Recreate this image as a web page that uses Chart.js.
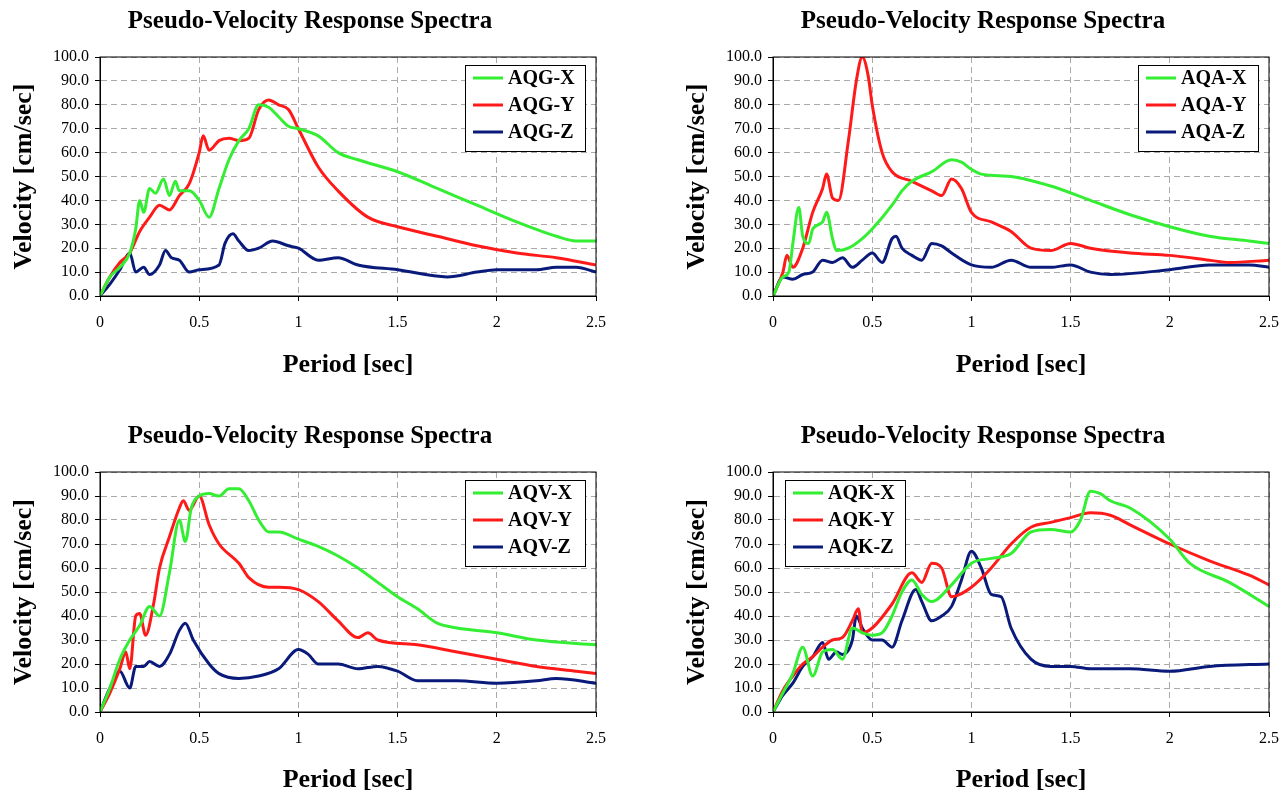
<!DOCTYPE html><html><head><meta charset="utf-8">
<script src="https://cdn.jsdelivr.net/npm/chart.js@4"></script>
<style>body{margin:0;background:#fff;width:1287px;height:793px;position:relative;overflow:hidden}
.c{position:absolute;width:640px;height:396px}</style></head><body>
<div class="c" style="left:0;top:0"><canvas id="c0"></canvas></div>
<div class="c" style="left:673px;top:0"><canvas id="c1"></canvas></div>
<div class="c" style="left:0;top:415px"><canvas id="c2"></canvas></div>
<div class="c" style="left:673px;top:415px"><canvas id="c3"></canvas></div>
<script>
const title="Pseudo-Velocity Response Spectra";
const xTitle="Period [sec]", yTitle="Velocity [cm/sec]";
// AQG
const aqgX_t=[0,0.05,0.1,0.15,0.18,0.2,0.22,0.25,0.28,0.32,0.35,0.38,0.4,0.45,0.5,0.55,0.6,0.65,0.7,0.75,0.8,0.85,0.9,0.95,1.0,1.1,1.2,1.3,1.5,1.7,1.9,2.1,2.3,2.4,2.5];
const aqgX_v=[0,8,12,18,28,40,35,45,43,49,42,48,44,44,40,33,45,57,65,70,80,79,75,71,70,67,60,57,52,45,38,31,25,23,23];
const aqgY_t=[0,0.05,0.1,0.15,0.2,0.25,0.3,0.35,0.4,0.45,0.5,0.52,0.55,0.6,0.65,0.7,0.75,0.8,0.85,0.9,0.95,1.0,1.1,1.2,1.35,1.5,1.7,1.9,2.1,2.3,2.5];
const aqgY_v=[0,8,14,18,27,33,38,36,42,47,60,67,61,65,66,65,66,78,82,80,78,70,54,44,33,29,25,21,18,16,13];
const aqgZ_t=[0,0.05,0.1,0.15,0.18,0.22,0.25,0.3,0.33,0.36,0.4,0.45,0.5,0.6,0.63,0.67,0.7,0.75,0.8,0.87,0.95,1.0,1.1,1.2,1.3,1.5,1.75,1.9,2.0,2.2,2.3,2.4,2.5];
const aqgZ_v=[0,5,11,18,10,12,9,13,19,16,15,10,11,13,22,26,23,19,20,23,21,20,15,16,13,11,8,10,11,11,12,12,10];
// AQA
const aqaX_t=[0,0.05,0.08,0.1,0.13,0.15,0.18,0.2,0.25,0.27,0.3,0.32,0.38,0.45,0.5,0.6,0.65,0.7,0.8,0.9,0.95,1.0,1.05,1.2,1.4,1.6,1.8,2.0,2.2,2.4,2.5];
const aqaX_v=[0,8,10,22,37,25,22,28,31,35,24,19,20,24,28,38,44,48,52,57,56,53,51,50,46,40,34,29,25,23,22];
const aqaY_t=[0,0.05,0.07,0.1,0.15,0.2,0.25,0.27,0.3,0.33,0.38,0.42,0.45,0.48,0.5,0.55,0.6,0.7,0.8,0.85,0.9,0.95,1.0,1.1,1.2,1.3,1.4,1.5,1.6,1.8,2.0,2.2,2.3,2.5];
const aqaY_v=[0,10,17,12,20,35,45,51,41,40,65,90,100,92,80,60,52,48,44,42,49,45,35,31,27,20,19,22,20,18,17,15,14,15];
const aqaZ_t=[0,0.05,0.1,0.15,0.2,0.25,0.3,0.35,0.4,0.45,0.5,0.55,0.6,0.62,0.65,0.7,0.75,0.8,0.85,0.9,1.0,1.1,1.2,1.3,1.4,1.5,1.6,1.7,2.0,2.2,2.4,2.5];
const aqaZ_v=[0,8,7,9,10,15,14,16,12,15,18,14,24,25,20,17,15,22,21,18,13,12,15,12,12,13,10,9,11,13,13,12];
// AQV
const aqvX_t=[0,0.05,0.1,0.15,0.2,0.25,0.3,0.35,0.4,0.43,0.46,0.5,0.55,0.6,0.65,0.7,0.75,0.8,0.85,0.9,1.0,1.1,1.2,1.3,1.4,1.5,1.6,1.7,1.8,2.0,2.2,2.5];
const aqvX_v=[0,10,22,30,36,44,40,58,80,71,85,90,91,90,93,93,88,80,75,75,72,69,65,60,54,48,43,37,35,33,30,28];
const aqvY_t=[0,0.05,0.1,0.13,0.15,0.18,0.2,0.23,0.27,0.3,0.35,0.4,0.42,0.45,0.5,0.55,0.6,0.7,0.75,0.85,0.9,1.0,1.1,1.2,1.3,1.35,1.4,1.6,1.8,2.0,2.2,2.4,2.5];
const aqvY_v=[0,8,18,25,18,40,41,32,45,60,73,85,88,84,90,78,70,62,56,52,52,51,46,38,31,33,30,28,25,22,19,17,16];
const aqvZ_t=[0,0.05,0.1,0.15,0.18,0.22,0.25,0.3,0.35,0.4,0.43,0.47,0.55,0.6,0.7,0.8,0.9,1.0,1.05,1.1,1.2,1.3,1.4,1.5,1.6,1.8,2.0,2.2,2.3,2.5];
const aqvZ_v=[0,10,17,10,19,19,21,19,24,34,37,30,20,16,14,15,18,26,24,20,20,18,19,17,13,13,12,13,14,12];
// AQK
const aqkX_t=[0,0.05,0.1,0.15,0.2,0.25,0.3,0.35,0.4,0.45,0.5,0.55,0.6,0.65,0.7,0.75,0.8,0.9,1.0,1.1,1.2,1.3,1.4,1.5,1.55,1.6,1.65,1.7,1.8,2.0,2.1,2.3,2.5];
const aqkX_v=[0,8,16,27,15,25,26,22,35,33,32,33,40,50,55,49,46,53,62,64,66,75,76,75,80,92,91,88,85,72,62,54,44];
const aqkY_t=[0,0.05,0.1,0.15,0.2,0.25,0.3,0.35,0.4,0.43,0.45,0.5,0.6,0.7,0.75,0.8,0.85,0.9,1.0,1.1,1.2,1.3,1.4,1.5,1.6,1.7,1.8,2.0,2.2,2.4,2.5];
const aqkY_v=[0,9,15,20,23,27,30,31,38,43,33,35,45,58,54,62,60,48,52,60,70,77,79,81,83,82,78,70,63,57,53];
const aqkZ_t=[0,0.05,0.1,0.15,0.2,0.25,0.28,0.32,0.35,0.4,0.42,0.45,0.5,0.55,0.6,0.65,0.72,0.75,0.8,0.85,0.9,0.95,1.0,1.05,1.1,1.15,1.2,1.3,1.4,1.5,1.6,1.8,2.0,2.2,2.5];
const aqkZ_v=[0,7,12,19,23,29,22,25,24,30,40,35,30,30,27,38,51,46,38,40,44,55,67,60,49,48,35,22,19,19,18,18,17,19,20];

const GREEN="#33ee33",RED="#ff1a1a",NAVY="#0a1a7a";
const pts=(t,v)=>t.map((x,i)=>({x,y:v[i]}));
const panels=[
 {id:"c0",name:"AQG",s:[[aqgX_t,aqgX_v],[aqgY_t,aqgY_v],[aqgZ_t,aqgZ_v]],left:false,bottom:296},
 {id:"c1",name:"AQA",s:[[aqaX_t,aqaX_v],[aqaY_t,aqaY_v],[aqaZ_t,aqaZ_v]],left:false,bottom:296},
 {id:"c2",name:"AQV",s:[[aqvX_t,aqvX_v],[aqvY_t,aqvY_v],[aqvZ_t,aqvZ_v]],left:false,bottom:297},
 {id:"c3",name:"AQK",s:[[aqkX_t,aqkX_v],[aqkY_t,aqkY_v],[aqkZ_t,aqkZ_v]],left:true,bottom:297}];
const cols=[GREEN,RED,NAVY], sfx=["-X","-Y","-Z"];
panels.forEach(p=>{
 const deco={id:"deco",afterDraw(c){const g=c.ctx,a=c.chartArea;g.save();
  g.fillStyle="#000";g.font="bold 25px 'Liberation Serif'";g.textAlign="center";g.textBaseline="middle";
  g.fillText(title,310,22);
  g.font="bold 26px 'Liberation Serif'";g.fillText(xTitle,(a.left+a.right)/2,365);
  g.save();g.translate(24,(a.top+a.bottom)/2);g.rotate(-Math.PI/2);g.fillText(yTitle,0,0);g.restore();
  const w=120,h=86,bx=p.left?a.left+12:a.right-11-w,by=a.top+8;
  g.fillStyle="#fff";g.fillRect(bx,by,w,h);g.strokeStyle="#000";g.lineWidth=1;g.strokeRect(bx+.5,by+.5,w,h);
  g.font="bold 20px 'Liberation Serif'";g.textAlign="left";
  for(let i=0;i<3;i++){const y=by+13+i*27;g.strokeStyle=cols[i];g.lineWidth=3;g.beginPath();g.moveTo(bx+8,y);g.lineTo(bx+38,y);g.stroke();
   g.fillStyle="#000";g.fillText(p.name+sfx[i],bx+43,y+1);}
  g.restore();}};
 new Chart(document.getElementById(p.id),{type:"line",
  data:{datasets:p.s.map((s,i)=>({data:pts(s[0],s[1]),borderColor:cols[i],borderWidth:3,pointRadius:0,cubicInterpolationMode:"monotone"}))},
  options:{responsive:true,maintainAspectRatio:false,animation:false,
   layout:{padding:{top:57,right:44,left:0,bottom:0}},
   plugins:{legend:{display:false},tooltip:{enabled:false}},
   scales:{
    x:{type:"linear",min:0,max:2.5,ticks:{stepSize:0.5,padding:12,color:"#000",font:{family:"Liberation Serif",size:16},maxRotation:0,callback:v=>String(v)},
      grid:{color:"#aaa",tickColor:"#000",tickLength:5},border:{color:"#000",dash:[6,4]},
      afterFit(s){s.height=396-p.bottom;}},
    y:{min:0,max:100,ticks:{stepSize:10,padding:6,color:"#000",font:{family:"Liberation Serif",size:16},callback:v=>v.toFixed(1)},
      grid:{color:"#aaa",tickColor:"#000",tickLength:5},border:{color:"#000",dash:[6,4]},
      afterFit(s){s.width=100;}}}},
  plugins:[deco,{id:"frame",afterDatasetsDraw(c){const g=c.ctx,a=c.chartArea;g.save();g.strokeStyle="#000";g.lineWidth=1;g.strokeRect(a.left,a.top,a.right-a.left,a.bottom-a.top);g.restore();}}]});
});
</script></body></html>
